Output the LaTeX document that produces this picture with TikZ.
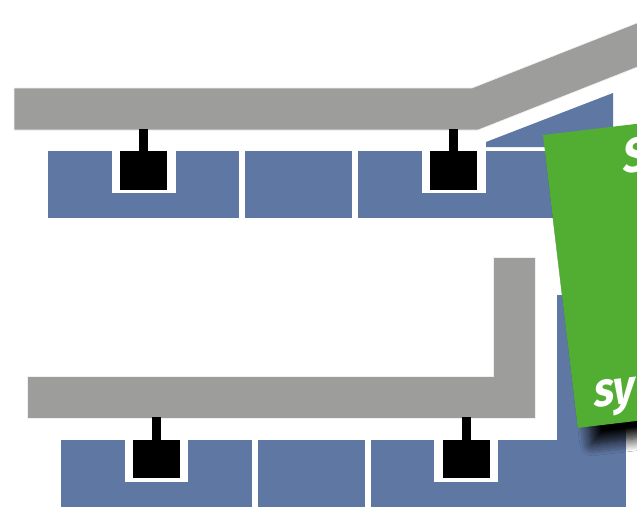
\documentclass[tikz,border=0pt]{standalone}
\usepackage{fontspec}
\setmainfont{Fira Sans}
\newfontfamily\signfont{Fira Sans}[FakeSlant=0.2, FakeStretch=0.88]
\usetikzlibrary{shadows.blur}
\definecolor{roofgray}{HTML}{9D9D9B}
\definecolor{panelblue}{HTML}{5F77A3}
\definecolor{signgreen}{HTML}{52AE32}
\tikzset{
  bar/.style={fill=roofgray, draw=white!85!roofgray, line width=0.6pt},
  panel/.style={fill=panelblue, draw=none},
  notch/.style={fill=white, draw=none},
  clampbox/.style={fill=black, draw=none},
  signtext/.style={text=white, font=\signfont\fontsize{48}{48}\selectfont\bfseries, inner sep=0pt, rotate=6.8, anchor=base west}
}
\begin{document}
\begin{tikzpicture}[x=1pt,y=-1pt]
\useasboundingbox (0,0) rectangle (637,506);
\clip (0,0) rectangle (637,506);
\fill[white] (0,0) rectangle (637,506);
% upper roof bar
\path[bar] (14,88) -- (472,88) -- (640,21.8) -- (640,66) -- (478,130) -- (14,130) -- cycle;
% upper panels
\fill[panelblue] (486,147) -- (486,142) -- (613,93) -- (613,147) -- cycle;
\fill[panelblue] (48,151) rectangle (239,218);
\fill[notch] (112,151) rectangle (176,193);
\fill[panelblue] (245,151) rectangle (352,218);
\fill[panelblue] (358,151) rectangle (613,218);
\fill[notch] (422,151) rectangle (486,193);
% upper clamps
\fill[clampbox] (120,151) rectangle (167,190);
\fill[clampbox] (139,129) rectangle (148,151);
\fill[clampbox] (430,151) rectangle (477,190);
\fill[clampbox] (449,129) rectangle (458,151);
% lower roof bar (L)
\path[bar] (27,376) -- (493,376) -- (493,257) -- (535,257) -- (535,418) -- (27,418) -- cycle;
% lower panels
\fill[panelblue] (557,295) rectangle (626,510);
\fill[panelblue] (61,440) rectangle (252,510);
\fill[notch] (125,440) rectangle (188,482);
\fill[panelblue] (258,440) rectangle (365,510);
\fill[panelblue] (371,440) rectangle (626,510);
\fill[notch] (434,440) rectangle (498,482);
% lower clamps
\fill[clampbox] (133,440) rectangle (180,478);
\fill[clampbox] (152,417) rectangle (161,440);
\fill[clampbox] (443,440) rectangle (490,478);
\fill[clampbox] (462,417) rectangle (471,440);
% green sign
\fill[signgreen, blur shadow={shadow xshift=14pt, shadow yshift=-16pt, shadow blur radius=12pt, shadow opacity=100, shadow blur steps=12}]
  (543,135) -- (741.6,111.4) -- (776.4,404.3) -- (577.8,427.9) -- cycle;
\node[signtext] (s1) at (622,174) {S};
\node[signtext] (s2) at (593,408) {sy};
\end{tikzpicture}
\end{document}
